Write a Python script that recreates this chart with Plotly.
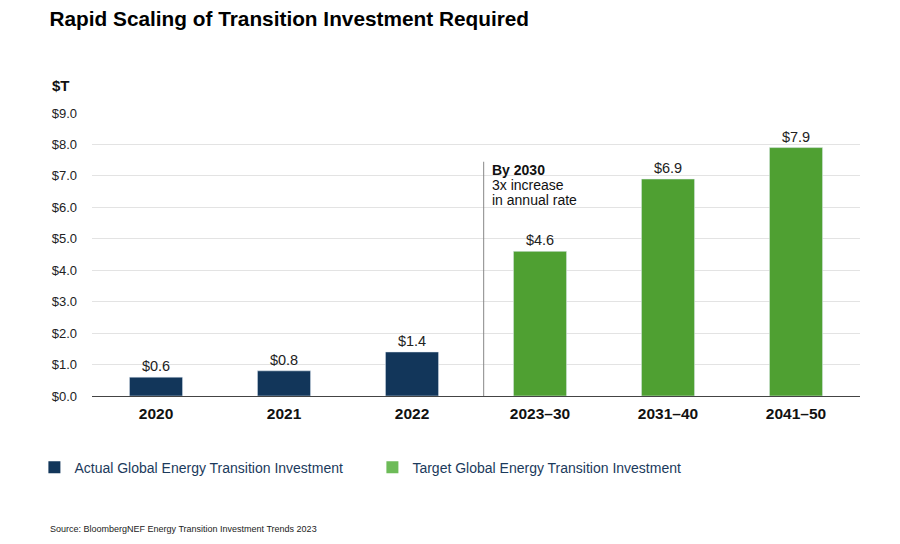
import plotly.graph_objects as go

actual_cats = ["2020", "2021", "2022"]
actual_vals = [0.6, 0.8, 1.4]
target_cats = ["2023–30", "2031–40", "2041–50"]
target_vals = [4.6, 6.9, 7.9]
all_cats = actual_cats + target_cats
y_ticks = [0, 1, 2, 3, 4, 5, 6, 7, 8, 9]
y_tick_text = ["$%.1f" % v for v in y_ticks]
note_lines = ["<b>By 2030</b>", "3x increase", "in annual rate"]
note_y = [7.19, 6.71, 6.23]

NAVY = "#12365a"
GREEN = "#4fa032"
GREEN_LEG = "#6dbb58"
FONT = "Liberation Sans, Arial, Helvetica, sans-serif"

fig = go.Figure()
fig.add_trace(go.Bar(
    x=actual_cats, y=actual_vals, marker_color=NAVY, width=0.415,
    text=["$%.1f" % v for v in actual_vals], textposition="outside",
    textfont=dict(size=14.5, color="#222"), cliponaxis=False, showlegend=False))
fig.add_trace(go.Bar(
    x=target_cats, y=target_vals, marker_color=GREEN, width=0.415,
    text=["$%.1f" % v for v in target_vals], textposition="outside",
    textfont=dict(size=14.5, color="#222"), cliponaxis=False, showlegend=False))

# legend entries
fig.add_trace(go.Scatter(x=[None], y=[None], mode="markers", name="Actual Global Energy Transition Investment",
                         marker=dict(symbol="square", size=12, color=NAVY)))
fig.add_trace(go.Scatter(x=[None], y=[None], mode="markers", name="Target Global Energy Transition Investment",
                         marker=dict(symbol="square", size=12, color=GREEN_LEG)))

fig.add_shape(type="line", xref="x", yref="y", x0=2.56, x1=2.56, y0=0, y1=7.45,
              line=dict(color="#888", width=1))

for txt, yy in zip(note_lines, note_y):
    fig.add_annotation(xref="x", yref="y", x=2.61, y=yy, xanchor="left", yanchor="middle",
                       align="left", showarrow=False, text=txt,
                       font=dict(size=14, color="#111", family=FONT))

fig.add_annotation(xref="paper", yref="paper", x=-0.055, y=1.06, xanchor="left", yanchor="bottom",
                   showarrow=False, text="<b>$T</b>", font=dict(size=15, color="#111", family=FONT))
fig.add_annotation(xref="paper", yref="paper", x=-0.057, y=-0.47, xanchor="left", yanchor="middle",
                   showarrow=False, text="Source: BloombergNEF Energy Transition Investment Trends 2023",
                   font=dict(size=9, color="#222", family=FONT))

fig.update_layout(
    width=900, height=544,
    margin=dict(l=92, r=40, t=113, b=148),
    paper_bgcolor="white", plot_bgcolor="white",
    font=dict(family=FONT, color="#222"),
    title=dict(text="<b>Rapid Scaling of Transition Investment Required</b>",
               x=0.055, xanchor="left", y=0.965, yanchor="middle",
               font=dict(size=20.8, color="#000", family=FONT)),
    bargap=0.585,
    barmode="overlay",
    legend=dict(orientation="h", x=-0.075, y=-0.253, xanchor="left", yanchor="middle",
                entrywidth=293, entrywidthmode="pixels",
                font=dict(size=14, color="#1b3a5c", family=FONT), itemsizing="constant"),
    xaxis=dict(categoryorder="array", categoryarray=all_cats, showgrid=False,
               tickfont=dict(size=15.5, color="#111", family=FONT),
               ticks="", showline=False, zeroline=False, ticklabelstandoff=6),
    yaxis=dict(range=[0, 9], tickvals=y_ticks, ticktext=y_tick_text, showgrid=True,
               gridcolor="#e3e3e3", gridwidth=1, zeroline=True, zerolinecolor="#444", zerolinewidth=1,
               tickfont=dict(size=13, color="#222"), ticks="", ticklabelstandoff=14, showline=False),
)
fig.update_xaxes(tickprefix="<b>", ticksuffix="</b>")

fig.write_html("out.html", config={"displayModeBar": False},
               post_script="document.body.style.margin='0';")
